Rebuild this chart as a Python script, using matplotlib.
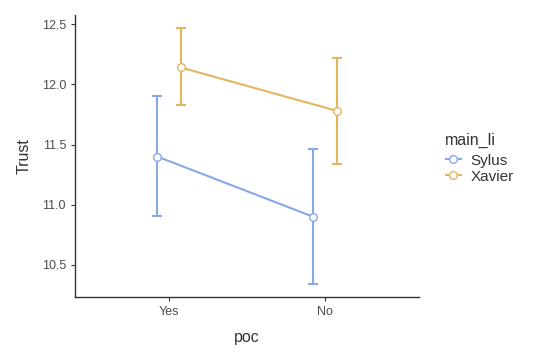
import matplotlib.pyplot as plt
import numpy as np
from matplotlib.lines import Line2D

plt.rcParams['font.family'] = ['Liberation Sans', 'DejaVu Sans']

categories = ['Yes', 'No']
groups = ['Sylus', 'Xavier']
colors = ['#86A9E6', '#E5B660']
means = {'Sylus': [11.40, 10.90], 'Xavier': [12.14, 11.78]}
lower = {'Sylus': [10.91, 10.34], 'Xavier': [11.83, 11.34]}
upper = {'Sylus': [11.90, 11.46], 'Xavier': [12.47, 12.22]}

fig = plt.figure(figsize=(5.4, 3.59), dpi=100)
ax = fig.add_axes([0.139, 0.173, 0.637, 0.785])

x = np.arange(1, len(categories) + 1)
dodge = 0.075
for i, g in enumerate(groups):
    xs = x + (i - 0.5) * 2 * dodge
    m = np.array(means[g])
    err = [m - np.array(lower[g]), np.array(upper[g]) - m]
    ax.errorbar(xs, m, yerr=err, fmt='none', ecolor=colors[i], elinewidth=1.5,
                capsize=3.5, capthick=1.5, zorder=2)
    ax.plot(xs, m, color=colors[i], lw=1.5, marker='o', ms=5.5,
            mfc='white', mec=colors[i], mew=1, zorder=3)

ax.set_xlim(0.397, 2.603)
ax.set_ylim(10.235, 12.575)
ax.set_xticks(x)
ax.set_xticklabels(categories)
ax.set_yticks([10.5, 11.0, 11.5, 12.0, 12.5])
ax.set_yticklabels(['10.5', '11.0', '11.5', '12.0', '12.5'])
for s in ['top', 'right']:
    ax.spines[s].set_visible(False)
for s in ['left', 'bottom']:
    ax.spines[s].set_color('#333333')
    ax.spines[s].set_linewidth(1.0)
ax.tick_params(colors='#333333', labelcolor='#4D4D4D', labelsize=9, length=3)
ax.set_xlabel('poc', fontsize=11.5, color='#333333', labelpad=9)
ax.set_ylabel('Trust', fontsize=11.5, color='#333333', labelpad=7)

# legend title drawn separately to get the ggplot-style gap
fig.text(445 / 540, 1 - 140 / 359, 'main_li', fontsize=11.5, color='#333333',
         ha='left', va='center')
handles = [Line2D([], [], color=c, lw=1.5, marker='o', ms=5.5, mfc='white', mec=c)
           for c in colors]
leg = fig.legend(handles, groups, loc='upper left',
                 bbox_to_anchor=(0.8, 0.61), frameon=False, fontsize=11,
                 handlelength=1.0, handletextpad=0.6, labelspacing=0.12)
for t in leg.get_texts():
    t.set_color('#333333')

fig.savefig('out.png', dpi=100)
